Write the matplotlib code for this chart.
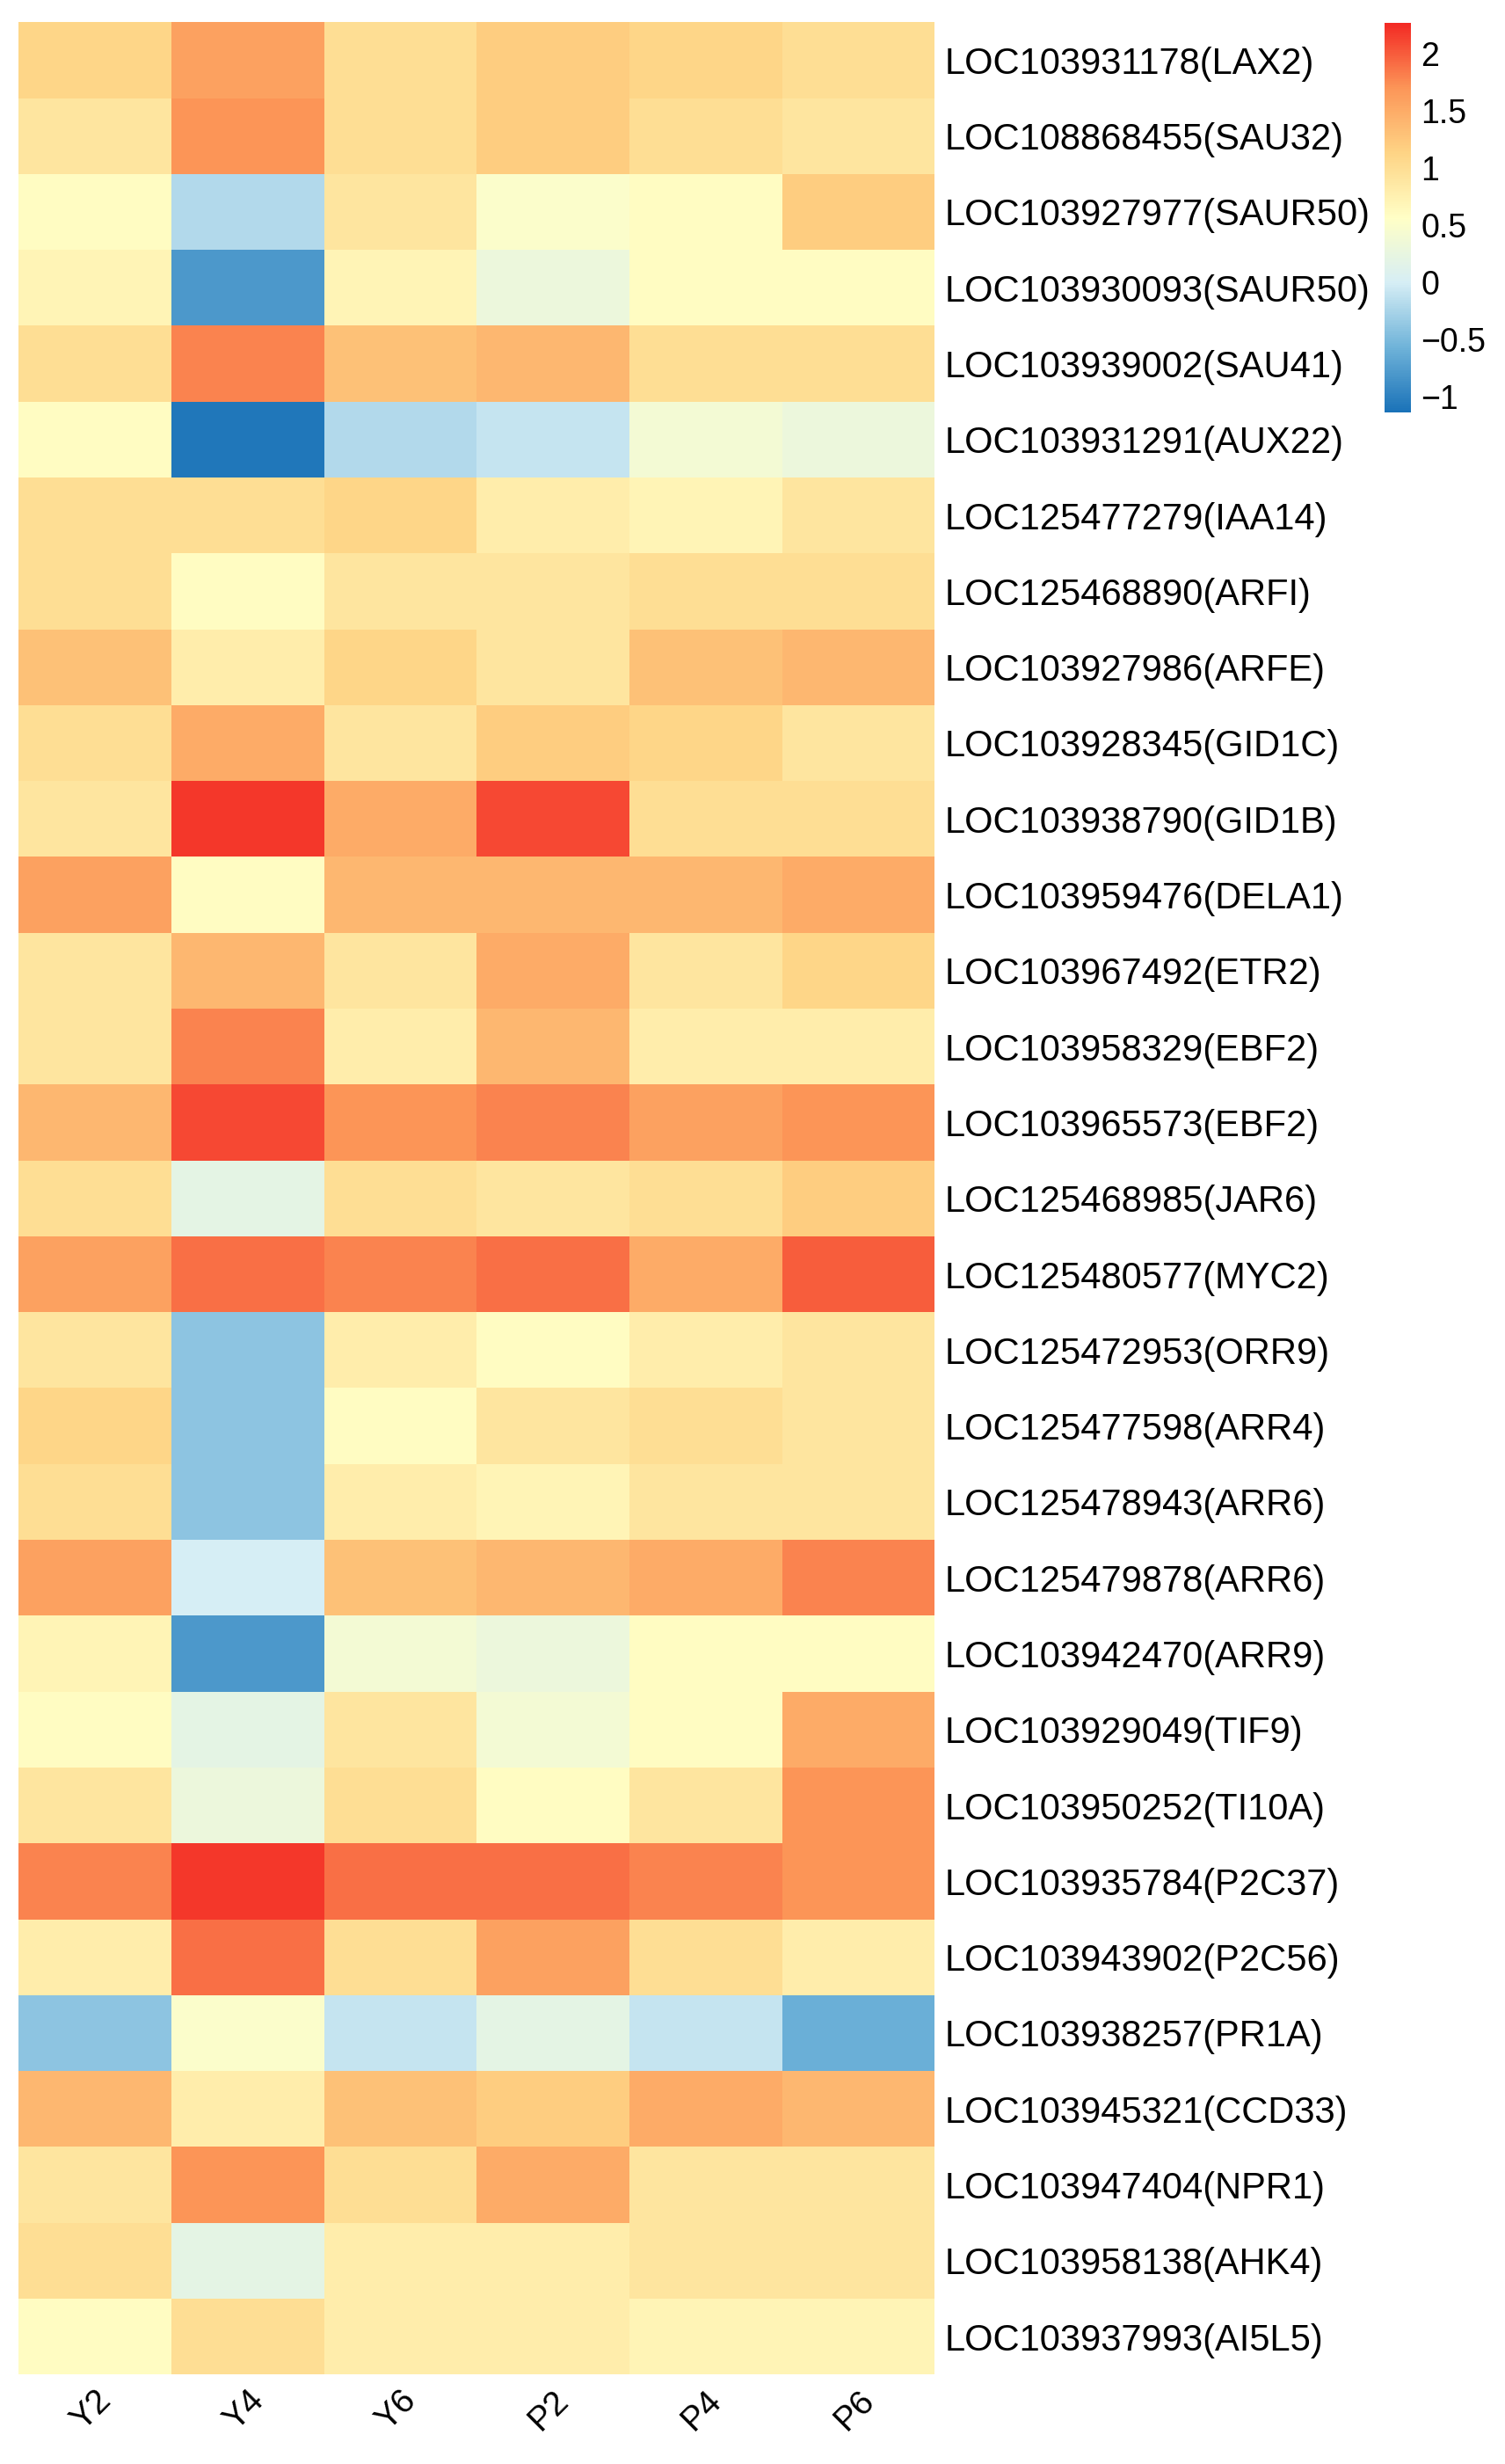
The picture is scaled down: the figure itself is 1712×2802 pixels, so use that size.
import matplotlib
matplotlib.use("Agg")
import matplotlib.pyplot as plt
import numpy as np
from matplotlib.colors import LinearSegmentedColormap

plt.rcParams['font.family'] = ['Liberation Sans', 'DejaVu Sans']

genes = ["LOC103931178(LAX2)","LOC108868455(SAU32)","LOC103927977(SAUR50)","LOC103930093(SAUR50)",
"LOC103939002(SAU41)","LOC103931291(AUX22)","LOC125477279(IAA14)","LOC125468890(ARFI)",
"LOC103927986(ARFE)","LOC103928345(GID1C)","LOC103938790(GID1B)","LOC103959476(DELA1)",
"LOC103967492(ETR2)","LOC103958329(EBF2)","LOC103965573(EBF2)","LOC125468985(JAR6)",
"LOC125480577(MYC2)","LOC125472953(ORR9)","LOC125477598(ARR4)","LOC125478943(ARR6)",
"LOC125479878(ARR6)","LOC103942470(ARR9)","LOC103929049(TIF9)","LOC103950252(TI10A)",
"LOC103935784(P2C37)","LOC103943902(P2C56)","LOC103938257(PR1A)","LOC103945321(CCD33)",
"LOC103947404(NPR1)","LOC103958138(AHK4)","LOC103937993(AI5L5)"]
samples = ["Y2","Y4","Y6","P2","P4","P6"]
values = [
[1.1,1.6,1.0,1.2,1.1,1.0],
[0.9,1.7,1.0,1.2,1.0,0.9],
[0.6,-0.2,0.9,0.5,0.6,1.2],
[0.7,-0.8,0.7,0.3,0.6,0.6],
[1.0,1.8,1.3,1.4,1.0,1.0],
[0.6,-1.1,-0.2,-0.1,0.4,0.3],
[1.0,1.0,1.1,0.8,0.7,0.9],
[1.0,0.6,0.9,0.9,1.0,1.0],
[1.3,0.8,1.1,0.9,1.3,1.4],
[1.0,1.5,0.9,1.2,1.1,0.9],
[0.9,2.2,1.5,2.1,1.0,1.0],
[1.6,0.6,1.4,1.4,1.4,1.5],
[0.9,1.4,0.9,1.5,0.9,1.1],
[0.9,1.8,0.8,1.4,0.8,0.8],
[1.4,2.1,1.7,1.8,1.6,1.7],
[1.0,0.2,1.0,0.9,1.0,1.2],
[1.6,1.9,1.8,1.9,1.5,2.0],
[0.9,-0.4,0.8,0.6,0.8,0.9],
[1.1,-0.4,0.6,0.9,1.0,0.9],
[1.0,-0.4,0.8,0.7,0.9,0.9],
[1.6,0.0,1.3,1.4,1.5,1.8],
[0.7,-0.8,0.4,0.3,0.6,0.6],
[0.6,0.2,0.9,0.4,0.6,1.5],
[0.9,0.3,1.0,0.6,0.9,1.7],
[1.8,2.2,1.9,1.9,1.8,1.7],
[0.8,1.9,1.0,1.6,1.0,0.8],
[-0.4,0.5,-0.1,0.2,-0.1,-0.6],
[1.4,0.8,1.3,1.2,1.5,1.4],
[0.9,1.7,1.0,1.5,0.9,0.9],
[1.0,0.2,0.8,0.8,0.9,0.9],
[0.6,1.0,0.8,0.8,0.7,0.7],
]
data = np.array(values)

cmap = LinearSegmentedColormap.from_list("c", ["#1a72b8", "#6fb3d9", "#d6eef5", "#ffffc6", "#fed485", "#fc9658", "#f32a24"])
vmin, vmax = -1.14, 2.27

fig = plt.figure(figsize=(17.12, 28.02), dpi=100)
ax = fig.add_axes([0.0125, 0.0363, 0.6085, 0.9547])
im = ax.pcolormesh(data, cmap=cmap, vmin=vmin, vmax=vmax)
ax.set_ylim(len(genes), 0)
ax.set_xlim(0, len(samples))
ax.yaxis.tick_right()
ax.set_yticks(np.arange(len(genes)) + 0.5)
ax.set_yticklabels(genes, fontsize=30)
ax.set_xticks(np.arange(len(samples)) + 0.5)
ax.set_xticklabels(samples, fontsize=28, rotation=45, ha='right', va='top', rotation_mode='anchor')
ax.tick_params(length=0, pad=8)
for s in ax.spines.values():
    s.set_visible(False)

cax = fig.add_axes([0.92, 0.8326, 0.0177, 0.158])
cb = fig.colorbar(im, cax=cax, ticks=[-1, -0.5, 0, 0.5, 1, 1.5, 2])
cb.ax.set_yticklabels(["\u22121", "\u22120.5", "0", "0.5", "1", "1.5", "2"])
cb.ax.tick_params(labelsize=27, length=0, pad=8)
cb.outline.set_visible(False)

fig.savefig("out.png", dpi=100)
